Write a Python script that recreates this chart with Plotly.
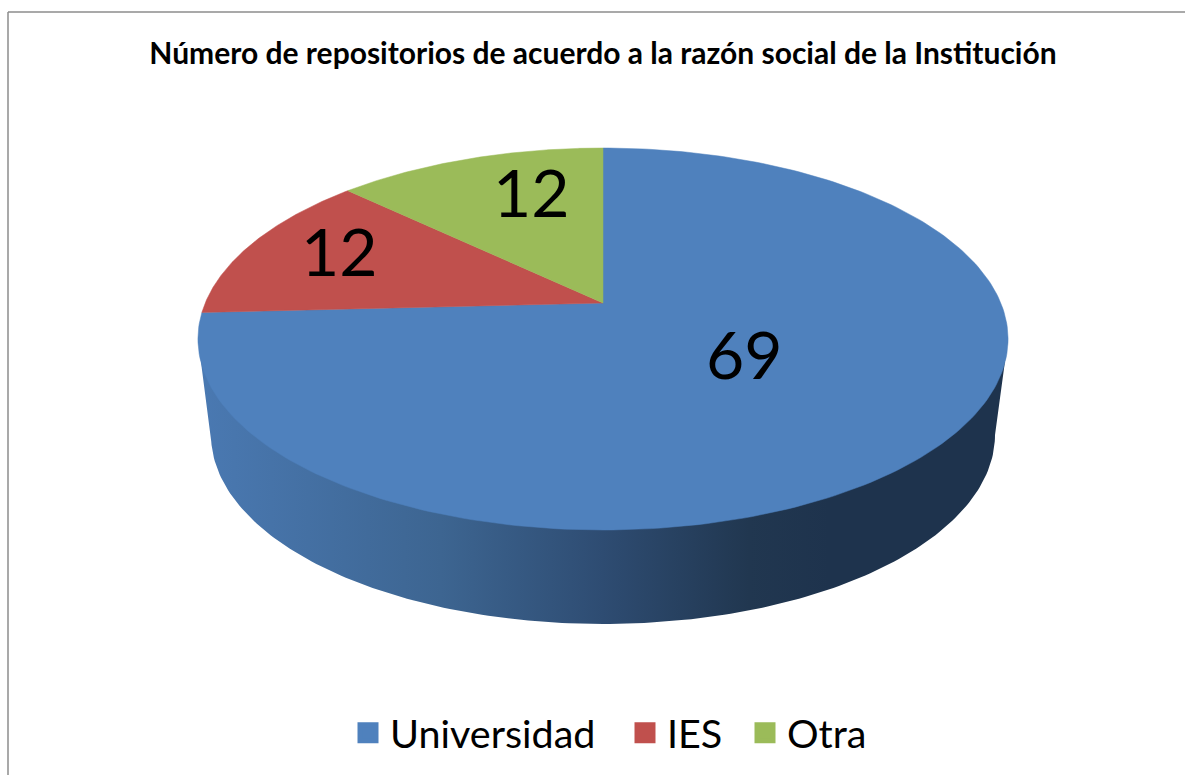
import numpy as np
import plotly.graph_objects as go

# ---- data ----
categories = ["Universidad", "IES", "Otra"]
values = [69, 12, 12]
colors = ["#4F81BD", "#C0504D", "#9BBB59"]
title_text = "Número de repositorios de acuerdo a la razón social de la Institución"

# ---- pie projection (perspective view of a disc), in page pixels ----
CX, CY = 603.0, 303.0
KX, KY, PERSP = 397.8, 184.2, 0.1885
RIM_CY, RIM_RX, RIM_RY = 435.0, 392.0, 189.0
TOP_CY, TOP_RX = 339.0, 405.0
SIDE_SCALE = [[0.0, "#4A79B2"], [0.3, "#3D6591"], [0.5, "#2E4C72"],
              [0.68, "#213750"], [0.78, "#1E334D"], [1.0, "#1E334D"]]
LABEL_PIXELS = [(744, 353), (339, 250), (531, 191)]
LEGEND_WIDTHS = [228, 71, 80]


def project(theta, r=1.0):
    X, Y = r * np.sin(theta), r * np.cos(theta)
    d = 1 + PERSP * Y
    return CX + KX * X / d, CY - KY * Y / d


fig = go.Figure()

# side wall
rim_x = CX - RIM_RX * np.cos(np.radians(np.linspace(0, 180, 181)))
rim_y = RIM_CY + RIM_RY * np.sin(np.radians(np.linspace(0, 180, 181)))
side_x = np.concatenate([[CX - TOP_RX], rim_x, [CX + TOP_RX]])
side_y = np.concatenate([[TOP_CY], rim_y, [TOP_CY]])
fig.add_trace(go.Scatter(
    x=side_x, y=side_y, mode="lines", fill="toself", line=dict(width=0),
    fillgradient=dict(type="horizontal", colorscale=SIDE_SCALE),
    showlegend=False, hoverinfo="skip"))

# top slices, clockwise from twelve o'clock
edges = np.cumsum([0] + values) / sum(values) * 2 * np.pi
for i, name in enumerate(categories):
    t = np.linspace(edges[i], edges[i + 1], 240)
    px, py = project(t)
    fig.add_trace(go.Scatter(
        x=np.concatenate([[CX], px, [CX]]),
        y=np.concatenate([[CY], py, [CY]]),
        mode="lines", fill="toself", fillcolor=colors[i],
        line=dict(width=0.5, color=colors[i]),
        showlegend=False, name=name, hoverinfo="name"))

# legend entries
for name, col, w in zip(categories, colors, LEGEND_WIDTHS):
    fig.add_trace(go.Scatter(
        x=[None], y=[None], mode="markers", name=name, legendwidth=w,
        marker=dict(symbol="square", size=16, color=col,
                    line=dict(width=5, color=col))))

annotations = [
    dict(x=p[0], y=p[1], xref="x", yref="y", text=str(v), showarrow=False,
         font=dict(family="Lato", size=66, color="#000000"))
    for p, v in zip(LABEL_PIXELS, values)
]

fig.update_layout(
    width=1185, height=775, autosize=False,
    margin=dict(l=0, r=0, t=0, b=0),
    paper_bgcolor="#FFFFFF", plot_bgcolor="#FFFFFF",
    title=dict(text=f"<b>{title_text}</b>", x=603 / 1185, xanchor="center",
               y=1 - 53 / 775, yanchor="middle",
               font=dict(family="Lato", size=30, color="#000000")),
    xaxis=dict(range=[0, 1185], visible=False, fixedrange=True),
    yaxis=dict(range=[775, 0], visible=False, fixedrange=True),
    showlegend=True,
    legend=dict(orientation="h", x=346 / 1185, xanchor="left",
                y=1 - 733 / 775, yanchor="middle",
                font=dict(family="Lato", size=39.5, color="#000000"),
                itemwidth=34, bgcolor="rgba(0,0,0,0)", itemclick=False,
                itemdoubleclick=False),
    annotations=annotations,
    shapes=[
        dict(type="line", xref="x", yref="y", x0=8, x1=8, y0=12, y1=775,
             line=dict(color="#8C8C8C", width=1.5)),
        dict(type="line", xref="x", yref="y", x0=8, x1=1185, y0=12, y1=12,
             line=dict(color="#8C8C8C", width=1.5)),
    ],
)
fig.write_html("out.html", config=dict(displayModeBar=False),
               post_script="document.body.style.margin='0';document.body.style.overflow='hidden';")
